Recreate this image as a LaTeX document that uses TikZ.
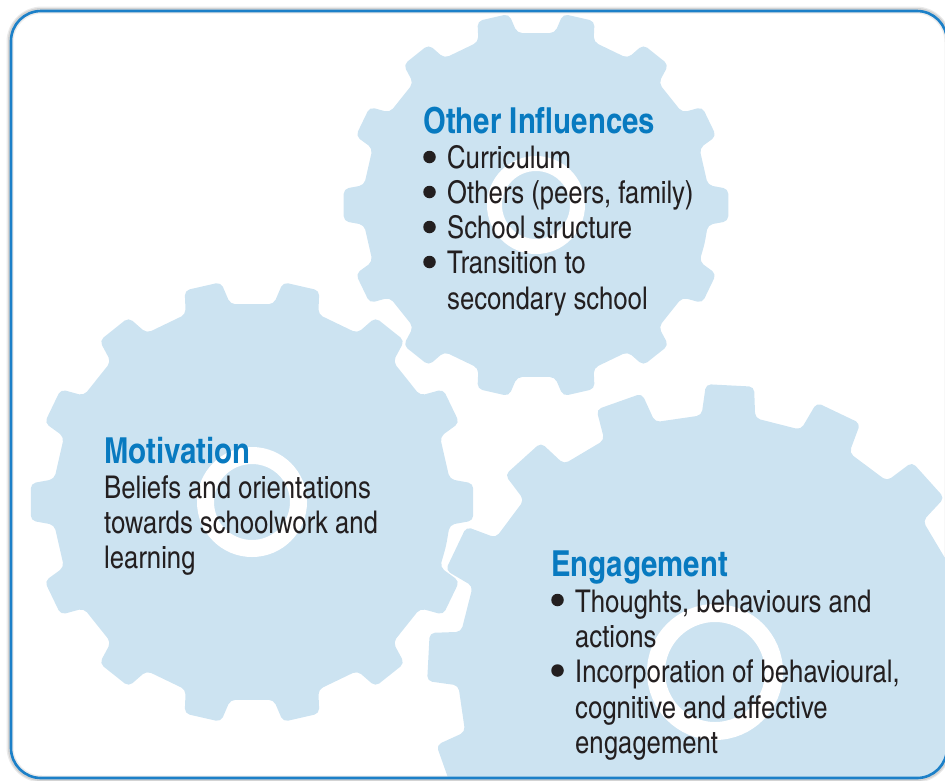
\documentclass[tikz,border=0pt]{standalone}
\usepackage{fontspec}
\setmainfont{TeX Gyre Heros Cn}
\definecolor{gearblue}{RGB}{204,227,241}
\definecolor{headblue}{RGB}{8,122,192}
\definecolor{frameblue}{RGB}{28,128,200}
\definecolor{bodytext}{RGB}{35,31,32}

\tikzset{
  gearfill/.style={fill=gearblue},
  hubring/.style={draw=white},
  headline/.style={anchor=base west, inner sep=0pt, text=headblue,
    font=\fontsize{35.8}{36}\selectfont\bfseries},
  bodyline/.style={anchor=base west, inner sep=0pt, text=bodytext,
    font=\fontsize{31.3}{36}\selectfont},
  bulletdot/.style={circle, fill=bodytext, inner sep=0pt, minimum size=12.5pt},
}

% #1,#2 centre, #3 tip radius, #4 root radius, #5 teeth,
% #6 rotation, #7 tip half-angle, #8 base half-angle
\newcommand{\cogwheel}[8]{%
  \pgfmathsetmacro{\gstep}{360/#5}%
  \pgfmathtruncatemacro{\glast}{#5-1}%
  \fill[gearfill, rounded corners=5pt]
    ({#1+#4*cos(#6-\gstep/2)}, {#2-#4*sin(#6-\gstep/2)})
    \foreach \k in {0,...,\glast} {
      -- ({#1+#4*cos(#6+\k*\gstep-#8)}, {#2-#4*sin(#6+\k*\gstep-#8)})
      -- ({#1+#3*cos(#6+\k*\gstep-#7)}, {#2-#3*sin(#6+\k*\gstep-#7)})
      -- ({#1+#3*cos(#6+\k*\gstep+#7)}, {#2-#3*sin(#6+\k*\gstep+#7)})
      -- ({#1+#4*cos(#6+\k*\gstep+#8)}, {#2-#4*sin(#6+\k*\gstep+#8)})
    } -- cycle;
}

\begin{document}
\begin{tikzpicture}[x=1pt, y=-1pt]
\useasboundingbox (0,0) rectangle (945,780);

% soft shadow and panel
\draw[black, opacity=0.08, line width=7pt, rounded corners=32pt] (10,10) rectangle (948,779);
\draw[black, opacity=0.10, line width=4pt, rounded corners=31pt] (10,10) rectangle (948,779);

\begin{scope}
  \clip[rounded corners=30pt] (11,11) rectangle (947,778);
  % gears
  \cogwheel{252}{502}{222}{199}{14}{0}{4.8}{6.6}
  \cogwheel{536}{205}{193}{173}{14}{0}{4.8}{6.6}
  \cogwheel{715}{672}{288}{257}{16}{19.5}{4.8}{6.0}
  % hub rings
  \draw[hubring, line width=15pt] (536,205) circle (41.5);
  \draw[hubring, line width=17pt] (252,502) circle (46.5);
  \draw[hubring, line width=18pt] (715,672) circle (59);
\end{scope}

\draw[frameblue, line width=2.6pt, rounded corners=30pt] (11,11) rectangle (947,778);

% Other influences
\node[headline] (oi-head) at (423,133) {Other Influences};
\node[bulletdot] (oi-d1) at (429.5,157) {};
\node[bodyline] (oi-t1) at (447,168) {Curriculum};
\node[bulletdot] (oi-d2) at (429.5,192) {};
\node[bodyline] (oi-t2) at (447,203) {Others (peers, family)};
\node[bulletdot] (oi-d3) at (429.5,227) {};
\node[bodyline] (oi-t3) at (447,238) {School structure};
\node[bulletdot] (oi-d4) at (429.5,262) {};
\node[bodyline] (oi-t4) at (447,273) {Transition to};
\node[bodyline] (oi-t5) at (447,309) {secondary school};

% Motivation
\node[headline] (mo-head) at (104,463) {Motivation};
\node[bodyline] (mo-t1) at (104,498) {Beliefs and orientations};
\node[bodyline] (mo-t2) at (104,533) {towards schoolwork and};
\node[bodyline] (mo-t3) at (104,568) {learning};

% Engagement
\node[headline] (en-head) at (551,576) {Engagement};
\node[bulletdot] (en-d1) at (557.5,600) {};
\node[bodyline] (en-t1) at (575,612) {Thoughts, behaviours and};
\node[bodyline] (en-t2) at (575,647) {actions};
\node[bulletdot] (en-d2) at (557.5,670.5) {};
\node[bodyline] (en-t3) at (575,682) {Incorporation of behavioural,};
\node[bodyline] (en-t4) at (575,718) {cognitive and affective};
\node[bodyline] (en-t5) at (575,753) {engagement};
\end{tikzpicture}
\end{document}
